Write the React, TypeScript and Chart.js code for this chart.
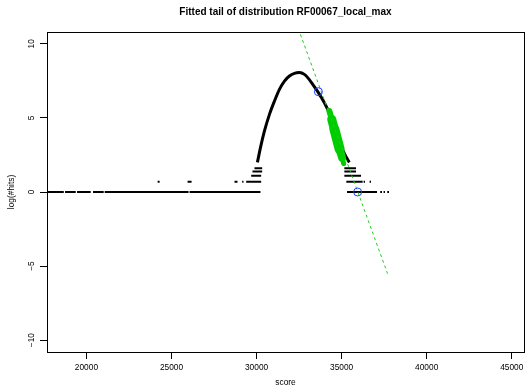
import React, { useEffect, useRef } from 'react';
import { Chart, registerables } from 'chart.js';

Chart.register(...registerables);

const TITLE = 'Fitted tail of distribution RF00067_local_max';
const X_LABEL = 'score';
const Y_LABEL = 'log(#hits)';

const X_MIN = 17682;
const X_MAX = 45720;
const Y_MIN = -10.8;
const Y_MAX = 10.8;
const X_TICKS = [20000, 25000, 30000, 35000, 40000, 45000];
const Y_TICKS = [-10, -5, 0, 5, 10];

// histogram bins drawn as runs of consecutive bins at each log(count) level
const LEVEL_VALUES = [0, 0.693, 1.099, 1.386, 1.609];
const RUNS_LOG1: number[][] = [
  [17682, 18668], [18744, 19372], [19448, 20252], [20387, 21015], [21074, 26004], [26063, 30230],
  [35318, 37079], [37273, 37373], [37466, 37548], [37683, 37783],
];
const RUNS_LOG2: number[][] = [
  [24185, 24302], [25945, 26180], [28704, 28880], [29155, 29232], [29390, 30270],
  [35277, 36234], [36292, 36374], [36644, 36727],
];
const RUNS_LOG3: number[][] = [[29684, 30270], [35160, 36140]];
const RUNS_LOG4: number[][] = [[29760, 30330], [35160, 35846]];
const RUNS_LOG5: number[][] = [[29878, 30330], [35160, 35846]];

// main body of the histogram (log counts)
const CURVE_X = [30050, 30230, 30465, 30758, 31052, 31345, 31639, 31932, 32225, 32519, 32813, 33006, 33300, 33634, 33986, 34180, 34340, 34575, 34810, 35044, 35277, 35453];
const CURVE_Y = [2.0, 3.0, 4.12, 5.24, 6.14, 6.93, 7.49, 7.83, 8.01, 8.06, 7.94, 7.72, 7.27, 6.71, 6.03, 5.58, 5.18, 4.43, 3.62, 2.88, 2.34, 2.0];

// tail points used for the fit
const TAIL_X = [34280, 34417, 34575, 34731, 34886, 35024, 35120];
const TAIL_Y = [5.47, 4.91, 4.23, 3.56, 2.88, 2.32, 1.92];
const TAIL_WIDTHS = [6, 9, 10, 10, 8, 5];

// fitted line and its anchor points
const FIT_X = [32577, 37701];
const FIT_Y = [10.64, -5.51];
const CIRCLE_X = [33634, 35941];
const CIRCLE_Y = [6.77, 0];

const FONT = '"Liberation Sans", Arial, Helvetica, sans-serif';

function runsToPoints(runs: number[][], level: number) {
  const pts: { x: number; y: number | null }[] = [];
  runs.forEach(([a, b]) => {
    pts.push({ x: a, y: level });
    pts.push({ x: b, y: level });
    pts.push({ x: b, y: null });
  });
  return pts;
}

const zip = (xs: number[], ys: number[]) => xs.map((x, i) => ({ x, y: ys[i] }));

const decorPlugin = {
  id: 'rDecor',
  afterDraw(chart: any) {
    const { ctx, chartArea, scales } = chart;
    ctx.save();
    ctx.strokeStyle = '#000';
    ctx.lineWidth = 1;
    ctx.strokeRect(
      Math.round(chartArea.left) + 0.5,
      Math.round(chartArea.top) + 0.5,
      Math.round(chartArea.right) - Math.round(chartArea.left),
      Math.round(chartArea.bottom) - Math.round(chartArea.top)
    );
    ctx.fillStyle = '#000';
    ctx.font = `8.35px ${FONT}`;
    ctx.textAlign = 'center';
    ctx.textBaseline = 'middle';
    Y_TICKS.forEach((v) => {
      const py = scales.y.getPixelForValue(v);
      ctx.save();
      ctx.translate(31.7, py);
      ctx.rotate(-Math.PI / 2);
      ctx.fillText(v < 0 ? '\u2212' + Math.abs(v) : String(v), 0, 0);
      ctx.restore();
    });
    ctx.font = `bold 10px ${FONT}`;
    ctx.fillText(TITLE, (chartArea.left + chartArea.right) / 2, 12);
    ctx.restore();
  },
};

export default function App() {
  const ref = useRef<HTMLCanvasElement>(null);
  useEffect(() => {
    if (!ref.current) return;
    const levelRuns = [RUNS_LOG1, RUNS_LOG2, RUNS_LOG3, RUNS_LOG4, RUNS_LOG5];
    const runDatasets = levelRuns.map((runs, i) => ({
      type: 'line' as const,
      data: runsToPoints(runs, LEVEL_VALUES[i]),
      borderColor: '#000',
      borderWidth: 2,
      pointRadius: 0,
      spanGaps: false,
      order: 5,
    }));
    const chart = new Chart(ref.current, {
      type: 'scatter',
      data: {
        datasets: [
          {
            type: 'scatter',
            data: zip(CIRCLE_X, CIRCLE_Y),
            pointRadius: 4,
            pointBorderWidth: 1,
            pointBorderColor: '#1a3cff',
            pointBackgroundColor: 'rgba(0,0,0,0)',
            order: 1,
          },
          {
            type: 'line',
            data: zip(FIT_X, FIT_Y),
            borderColor: '#22cc22',
            borderWidth: 1,
            borderDash: [3, 3],
            pointRadius: 0,
            order: 2,
          },
          {
            type: 'line',
            data: zip(TAIL_X, TAIL_Y),
            borderColor: '#00cd00',
            borderCapStyle: 'round',
            borderJoinStyle: 'round',
            pointRadius: 0,
            segment: { borderWidth: (c: any) => TAIL_WIDTHS[c.p0DataIndex] },
            order: 3,
          },
          {
            type: 'line',
            data: zip(CURVE_X, CURVE_Y),
            borderColor: '#000',
            borderWidth: 3,
            cubicInterpolationMode: 'monotone',
            pointRadius: 0,
            order: 4,
          },
          ...runDatasets,
        ] as any,
      },
      plugins: [decorPlugin],
      options: {
        animation: false,
        responsive: false,
        devicePixelRatio: 1,
        layout: { autoPadding: false, padding: { top: 32, right: 1, bottom: 0, left: 0 } },
        plugins: { legend: { display: false }, tooltip: { enabled: false }, title: { display: false } },
        scales: {
          x: {
            type: 'linear',
            min: X_MIN,
            max: X_MAX,
            afterBuildTicks: (s: any) => { s.ticks = X_TICKS.map((v) => ({ value: v })); },
            afterFit: (s: any) => { s.height = 40; s.paddingLeft = 0; s.paddingRight = 0; },
            ticks: {
              autoSkip: false,
              maxRotation: 0,
              padding: 4,
              color: '#000',
              font: { family: FONT, size: 8.35 },
              callback: (v: any) => String(v),
            },
            grid: { display: true, drawOnChartArea: false, drawTicks: true, tickLength: 7, color: '#000', tickColor: '#000' },
            border: { display: true, color: '#000', width: 1 },
            title: { display: true, text: X_LABEL, color: '#000', font: { family: FONT, size: 8.35 }, padding: { top: 0, bottom: 4.7 } },
          },
          y: {
            type: 'linear',
            min: Y_MIN,
            max: Y_MAX,
            afterBuildTicks: (s: any) => { s.ticks = Y_TICKS.map((v) => ({ value: v })); },
            afterFit: (s: any) => { s.width = 47; s.paddingTop = 0; s.paddingBottom = 0; },
            ticks: { display: false },
            grid: { display: true, drawOnChartArea: false, drawTicks: true, tickLength: 7, color: '#000', tickColor: '#000' },
            border: { display: true, color: '#000', width: 1 },
            title: { display: true, text: Y_LABEL, color: '#000', font: { family: FONT, size: 8.35 }, padding: { top: 6.8, bottom: 0 } },
          },
        },
      } as any,
    });
    return () => chart.destroy();
  }, []);
  return (
    <div style={{ position: 'absolute', left: 0, top: 0, width: 525, height: 392, background: '#fff' }}>
      <canvas ref={ref} width={525} height={392} style={{ display: 'block' }} />
    </div>
  );
}
